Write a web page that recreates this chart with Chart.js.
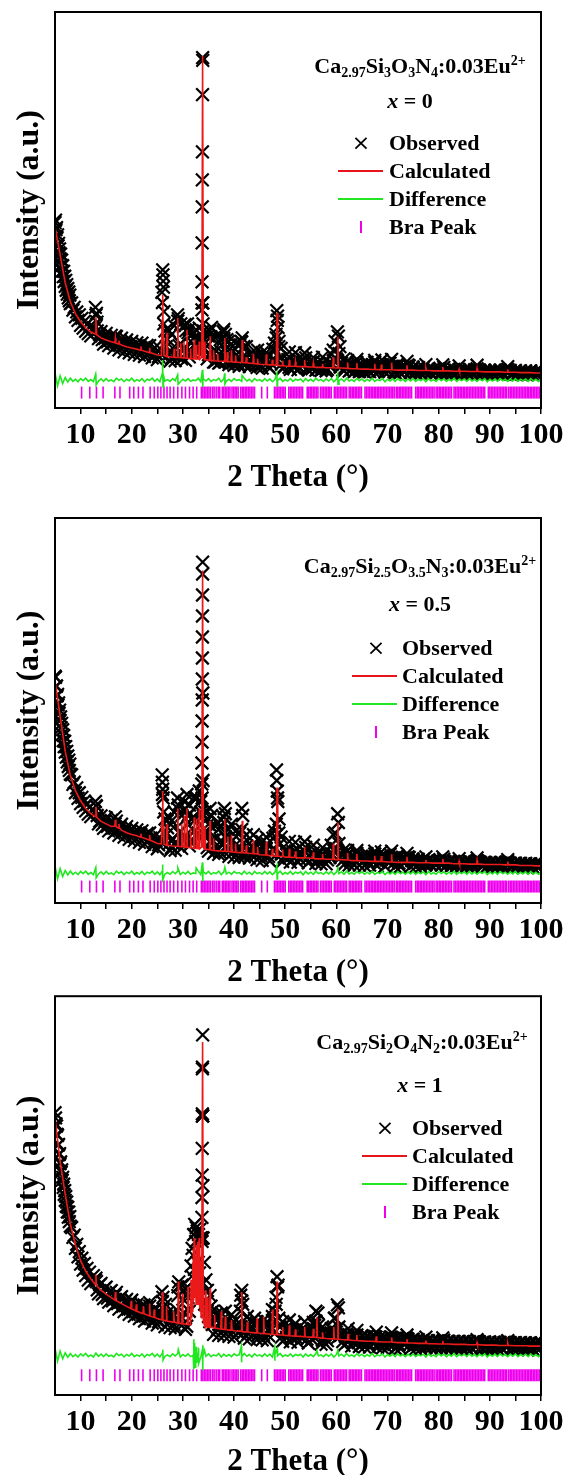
<!DOCTYPE html>
<html><head><meta charset="utf-8">
<script src="https://cdn.jsdelivr.net/npm/chart.js@4.4.0/dist/chart.umd.min.js"></script>
<style>
html,body{margin:0;padding:0;background:#fff;overflow:hidden;}
#page{position:relative;width:567px;height:1475px;overflow:hidden;font-family:"Liberation Serif","Times New Roman",serif;font-weight:bold;color:#000;}
canvas{position:absolute;left:0;}
.t{position:absolute;white-space:nowrap;line-height:1;z-index:5;}
.c{transform:translate(-50%,-50%);}
.l{transform:translateY(-50%);}
.f{font-size:22px;}
.f sub,.f sup{font-size:14px;line-height:0;position:relative;vertical-align:baseline;}
.f sub{top:0.32em;}
.f sup{top:-0.6em;}
.lg{font-size:22px;}
.xs{font-family:"DejaVu Sans",sans-serif;font-weight:normal;font-size:22px;}
.ln{position:absolute;height:2px;width:45px;z-index:5;}
.bt{position:absolute;width:2px;height:12px;background:#ee00ee;z-index:5;}
</style></head>
<body><div id="page">
<canvas id="c1" width="567" height="495" style="top:0px"></canvas>
<canvas id="c2" width="567" height="495" style="top:495px"></canvas>
<canvas id="c3" width="567" height="500" style="top:985px"></canvas>

<div class="t c f" style="left:420px;top:66px">Ca<sub>2.97</sub>Si<sub>3</sub>O<sub>3</sub>N<sub>4</sub>:0.03Eu<sup>2+</sup></div>
<div class="t c lg" style="left:410px;top:101px"><i>x</i> = 0</div>
<div class="t c xs" style="left:361px;top:143px">×</div>
<div class="t l lg" style="left:389px;top:143px">Observed</div>
<div class="ln" style="left:338px;top:170px;background:#e8141c"></div>
<div class="t l lg" style="left:389px;top:171px">Calculated</div>
<div class="ln" style="left:338px;top:198px;background:#22e622"></div>
<div class="t l lg" style="left:389px;top:199px">Difference</div>
<div class="bt" style="left:360px;top:221px"></div>
<div class="t l lg" style="left:389px;top:227px">Bra Peak</div>

<div class="t c f" style="left:420px;top:566px">Ca<sub>2.97</sub>Si<sub>2.5</sub>O<sub>3.5</sub>N<sub>3</sub>:0.03Eu<sup>2+</sup></div>
<div class="t c lg" style="left:420px;top:604px"><i>x</i> = 0.5</div>
<div class="t c xs" style="left:376px;top:648px">×</div>
<div class="t l lg" style="left:402px;top:648px">Observed</div>
<div class="ln" style="left:352px;top:675px;background:#e8141c"></div>
<div class="t l lg" style="left:402px;top:676px">Calculated</div>
<div class="ln" style="left:352px;top:703px;background:#22e622"></div>
<div class="t l lg" style="left:402px;top:704px">Difference</div>
<div class="bt" style="left:375px;top:726px"></div>
<div class="t l lg" style="left:402px;top:732px">Bra Peak</div>

<div class="t c f" style="left:422px;top:1042px">Ca<sub>2.97</sub>Si<sub>2</sub>O<sub>4</sub>N<sub>2</sub>:0.03Eu<sup>2+</sup></div>
<div class="t c lg" style="left:420px;top:1085px"><i>x</i> = 1</div>
<div class="t c xs" style="left:385px;top:1128px">×</div>
<div class="t l lg" style="left:412px;top:1128px">Observed</div>
<div class="ln" style="left:362px;top:1155px;background:#e8141c"></div>
<div class="t l lg" style="left:412px;top:1156px">Calculated</div>
<div class="ln" style="left:362px;top:1183px;background:#22e622"></div>
<div class="t l lg" style="left:412px;top:1184px">Difference</div>
<div class="bt" style="left:384px;top:1206px"></div>
<div class="t l lg" style="left:412px;top:1212px">Bra Peak</div>
</div>
<script>
// ---------- x tick values ----------
const xTicks = [10,15,20,25,30,35,40,45,50,55,60,65,70,75,80,85,90,95,100];

// ---------- 2-theta grids ----------
const gridObs = [5.0,5.1,5.2,5.3,5.4,5.5,5.6,5.7,5.8,5.9,
6.0,6.1,6.2,6.3,6.4,6.5,6.6,6.7,6.8,6.9,
7.0,7.1,7.2,7.3,7.4,7.5,7.6,7.7,7.8,7.9,
8.0,8.25,8.5,8.75,9,9.25,9.5,9.75,10,10.25,10.5,10.75,11,11.25,11.5,11.75,12,
12.5,13,13.5,14,14.5,15,15.5,16,16.5,17,
17.5,18,18.5,19,19.5,20,20.5,21,21.5,22,
22.5,23,23.5,24,24.5,25,25.5,26,26.5,27,
27.5,28,28.5,29,29.5,30,30.5,31,31.5,32,
32.5,33,33.5,34,34.5,35,35.5,36,36.5,37,
37.5,38,38.5,39,39.5,40,40.5,41,41.5,42,
42.5,43,43.5,44,44.5,45,45.5,46,46.5,47,
47.5,48,48.5,49,49.5,50,50.5,51,51.5,52,
52.5,53,53.5,54,54.5,55,55.5,56,56.5,57,
57.5,58,58.5,59,59.5,60,60.5,61,61.5,62,
62.5,63,63.5,64,64.5,65,65.5,66,66.5,67,
67.5,68,68.5,69,69.5,70,70.5,71,71.5,72,
72.5,73,73.5,74,74.5,75,75.5,76,76.5,77,
77.5,78,78.5,79,79.5,80,80.5,81,81.5,82,
82.5,83,83.5,84,84.5,85,85.5,86,86.5,87,
87.5,88,88.5,89,89.5,90,90.5,91,91.5,92,
92.5,93,93.5,94,94.5,95,95.5,96,96.5,97,
97.5,98,98.5,99,99.5,100];
const gridObsB = [12.75,13.25,13.75,14.25,14.75,15.25,15.75,16.25,16.75,17.25,
17.75,18.25,18.75,19.25,19.75,20.25,20.75,21.25,21.75,22.25,
22.75,23.25,23.75,24.25,24.75,25.25,25.75,26.25,26.75,27.25,
27.75,28.25,28.75,29.25,29.75,30.25,30.75,31.25,31.75,32.25,
32.75,33.25,33.75,34.25,34.75,35.25,35.75,36.25,36.75,37.25,
37.75,38.25,38.75,39.25,39.75,40.25,40.75,41.25,41.75,42.25,
42.75,43.25,43.75,44.25,44.75,45.25,45.75,46.25,46.75,47.25,
47.75,48.25,48.75,49.25,49.75,50.25,50.75,51.25,51.75,52.25,
52.75,53.25,53.75,54.25,54.75,55.25,55.75,56.25,56.75,57.25,
57.75,58.25,58.75,59.25,59.75,60.25,60.75,61.25,61.75,62.25,
62.75,63.25,63.75,64.25,64.75,65.25,65.75,66.25,66.75,67.25,
67.75,68.25,68.75,69.25,69.75,70.25,70.75,71.25,71.75,72.25,
72.75,73.25,73.75,74.25,74.75,75.25,75.75,76.25,76.75,77.25,
77.75,78.25,78.75,79.25,79.75,80.25,80.75,81.25,81.75,82.25,
82.75,83.25,83.75,84.25,84.75,85.25,85.75,86.25,86.75,87.25,
87.75,88.25,88.75,89.25,89.75,90.25,90.75,91.25,91.75,92.25,
92.75,93.25,93.75,94.25,94.75,95.25,95.75,96.25,96.75,97.25,
97.75,98.25,98.75,99.25,99.75];

const gridCalc = [5,6,7,8,9,10,11,12,13,14,
15,16,17,18,19,20,21,22,23,24,
25,26,27,28,29,30,31,32,33,34,
35,36,37,38,39,40,41,42,43,44,
45,46,47,48,49,50,51,52,53,54,
55,56,57,58,59,60,61,62,63,64,
65,66,67,68,69,70,71,72,73,74,
75,76,77,78,79,80,81,82,83,84,
85,86,87,88,89,90,91,92,93,94,
95,96,97,98,99,100];

const gridDiff = [5,5.5,6,6.5,7,7.5,8,8.5,9,9.5,10,10.5,11,11.5,12,12.5,13,13.5,14,14.5,
15,15.5,16,16.5,17,17.5,18,18.5,19,19.5,20,20.5,21,21.5,22,22.5,23,23.5,24,24.5,
25,25.5,26,26.5,27,27.5,28,28.5,29,29.5,30,30.5,31,31.5,32,32.5,33,33.5,34,34.5,
35,35.5,36,36.5,37,37.5,38,38.5,39,39.5,40,40.5,41,41.5,42,42.5,43,43.5,44,44.5,
45,45.5,46,46.5,47,47.5,48,48.5,49,49.5,50,50.5,51,51.5,52,52.5,53,53.5,54,54.5,
55,55.5,56,56.5,57,57.5,58,58.5,59,59.5,60,60.5,61,61.5,62,62.5,63,63.5,64,64.5,
65,65.5,66,66.5,67,67.5,68,68.5,69,69.5,70,70.5,71,71.5,72,72.5,73,73.5,74,74.5,
75,75.5,76,76.5,77,77.5,78,78.5,79,79.5,80,80.5,81,81.5,82,82.5,83,83.5,84,84.5,
85,85.5,86,86.5,87,87.5,88,88.5,89,89.5,90,90.5,91,91.5,92,92.5,93,93.5,94,94.5,
95,95.5,96,96.5,97,97.5,98,98.5,99,99.5,100];

// ---------- Bragg reflection positions ----------
const braPeaks = [10.2,11.8,13.1,14.4,16.7,17.7,19.6,20.4,21.3,22.2,23.6,24.4,25.1,25.7,26.3,26.9,27.5,28.2,29.0,29.8,30.5,31.3,32.0,32.7,
33.6,33.9,34.2,34.5,34.8,35.1,35.4,35.8,36.1,36.5,36.9,37.2,
37.7,38.0,38.3,38.6,38.9,39.2,39.6,39.9,40.2,40.5,40.8,
41.3,41.6,41.9,42.2,42.5,42.8,43.1,43.4,43.7,44.0,
45.4,46.5,
47.9,48.2,48.5,48.8,49.1,49.4,49.7,50.0,
50.7,51.0,51.3,51.6,51.9,52.2,52.5,52.8,53.1,53.4,
54.3,54.6,54.9,55.2,55.5,55.8,56.1,56.4,
56.9,57.2,57.5,57.8,58.1,58.4,58.7,59.0,
59.6,59.9,60.2,60.5,60.8,61.1,61.4,61.7,62.0,
62.5,62.8,63.1,63.4,63.7,64.0,64.3,64.6,64.9,
65.6,65.9,66.2,66.5,66.8,67.1,67.4,67.7,68.0,68.3,68.6,68.9,69.2,69.5,69.8,70.1,70.4,70.7,71.0,71.3,
71.7,72.0,72.3,72.6,72.9,73.2,73.5,73.8,74.1,74.4,74.7,
75.5,75.8,76.1,76.4,76.7,77.0,77.3,77.6,77.9,78.2,78.5,78.8,79.1,
79.5,79.8,80.1,80.4,80.7,81.0,81.3,81.6,81.9,82.2,82.5,
83.0,83.3,83.6,83.9,84.2,84.5,84.8,85.1,85.4,85.7,86.0,86.3,86.6,86.9,87.2,87.5,87.8,88.1,88.4,88.7,89.0,
89.7,90.0,90.3,90.6,90.9,91.2,91.5,91.8,92.1,92.4,92.7,93.0,93.3,
93.7,94.0,94.3,94.6,94.9,95.2,95.5,95.8,96.1,96.4,96.7,97.0,97.3,97.6,97.9,98.2,98.5,98.8,99.1,99.4,99.7];

// ================= PANEL 1 (x = 0) =================
const obs1 = [52.9,53.6,50.9,51.5,48.6,49.4,46.3,47.0,44.3,45.4,
42.6,43.9,40.8,42.2,39.1,40.6,37.5,39.0,36.1,37.6,
34.7,36.4,33.6,35.2,32.5,34.1,31.4,33.1,30.6,32.2,
29.8,30.0,27.9,28.7,26.0,27.4,25.0,26.6,23.6,25.6,22.8,24.7,21.9,23.9,21.2,23.2,20.6,
22.9,26.5,19.8,21.8,18.2,21.3,17.8,20.7,17.1,20.4,
16.6,19.9,16.0,19.4,15.7,19.0,15.3,18.6,15.1,18.5,
14.7,17.9,17.8,14.3,17.2,13.8,17.0,30.1,22.0,19.6,
13.4,17.1,13.5,24.8,18.4,16.9,13.6,21.5,15.8,19.8,
17.5,15.9,19.0,22.0,18.8,15.2,20.3,13.1,16.2,12.8,
16.1,19.8,15.9,12.4,16.0,12.2,15.2,11.9,18.8,12.3,
14.5,11.8,14.3,13.9,11.6,14.0,11.4,13.7,14.9,11.3,
13.9,16.5,26.2,14.2,11.2,13.4,13.8,11.0,13.5,13.3,
10.9,13.3,13.9,14.3,10.9,12.9,13.2,10.8,12.9,10.7,
12.8,10.6,12.8,12.6,13.6,14.0,15.5,12.9,10.6,12.8,
10.5,12.5,10.4,13.0,10.4,12.3,10.3,12.2,10.4,12.4,
13.0,10.3,12.2,12.4,10.2,12.0,12.8,11.9,10.1,11.9,
10.1,11.8,11.9,12.3,10.1,11.7,10.0,11.6,10.0,11.6,
10.2,11.2,10.1,11.1,10.1,11.1,10.1,11.6,10.1,11.1,
10.0,11.0,10.0,11.0,10.0,10.9,9.9,10.9,9.9,10.9,
11.2,10.8,9.8,10.8,9.8,10.8,9.8,10.8,9.8,10.8,
9.7,10.7,11.0,10.7,9.7,10.7,9.6,10.6,9.6,10.6,
9.6,10.6,9.5,10.5,9.5,10.5];
const obsB1 = [22.8,22.0,20.9,19.5,19.9,18.9,19.4,18.5,19.9,18.0,
18.5,17.6,18.0,17.0,17.6,16.6,17.3,16.3,17.3,16.0,
16.5,15.5,16.1,15.1,15.6,14.7,15.4,24.0,17.5,15.3,
14.2,14.9,15.0,17.8,14.0,16.5,15.9,14.6,16.0,18.0,
16.8,16.5,30.0,17.0,14.0,15.0,16.1,13.2,13.8,13.0,
14.5,16.8,13.6,13.5,12.8,13.5,12.7,13.3,14.6,12.5,
13.2,12.4,14.1,12.2,12.9,12.0,12.8,13.5,11.9,12.7,
14.0,20.0,17.5,12.5,11.8,12.4,11.6,12.3,11.5,12.4,
11.4,12.2,13.1,11.3,12.0,11.2,11.9,11.1,11.9,11.1,
11.8,11.0,11.8,12.5,19.0,13.5,11.7,10.9,11.6,12.3,
10.8,11.5,10.7,12.0,11.4,10.6,11.3,10.6,11.3,10.5,
11.8,10.5,11.2,12.0,11.1,10.4,11.9,10.4,11.1,10.3,
11.0,10.3,11.0,12.0,10.9,10.2,10.9,10.2,10.9,10.2,
10.8,10.1,10.8,10.1,10.7,11.3,10.0,10.7,10.0,10.6,
10.0,10.6,10.0,10.6,9.9,10.5,9.9,10.5,9.9,10.5,
10.8,10.4,9.8,10.4,9.8,10.4,9.8,10.3,9.7,10.3,
9.7,10.6,10.3,9.7,10.3,9.6,10.2,9.6,10.2,9.6,
10.2,9.6,10.1,9.6,10.1];
const obsPkX1 = [12.9,13.1,13.2,16.8,25.9,26.05,26.1,26.15,26.2,26.3,26.9,28.95,29.1,29.6,30.1,30.6,30.9,32.2,32.6,33.2,
33.72,33.74,33.76,33.78,33.8,33.82,33.84,33.86,33.88,33.92,33.95,34.3,35.3,35.6,37.9,38.3,38.6,39.3,41.4,41.6,41.9,
43.9,46.3,48.2,48.35,48.45,48.6,48.8,53.8,55.5,59.4,60.2,60.4,60.7,62.2,64.0,67.5,68.9,70.8,73.8,80.8];
const obsPkY1 = [28.7,27.0,24.5,20.5,33.0,39.4,38.0,36.2,34.5,27.5,22.5,26.6,25.5,24.0,23.3,22.1,24.0,21.5,22.3,22.8,
28.0,36.0,47.1,57.4,65.1,73.1,89.4,100.0,99.2,30.0,24.0,21.5,22.0,23.0,21.7,21.0,19.5,18.0,19.0,20.0,17.5,
16.4,15.8,21.0,27.8,25.0,23.0,19.0,15.7,14.4,16.5,21.7,20.5,17.5,13.5,13.9,13.6,13.7,13.9,13.3,12.3];
const obsSmX1 = [27.3,27.8,28.3,30.4,31.2,31.7,34.7,35.0,36.3,36.8,37.3,38.0,38.9,40.3,41.1,42.4,44.6,45.5,47.6,47.9,
49.2,50.8,52.0,57.3,59.0,61.5,66.0,72.0,77.5,84.0,87.5,93.5];
const obsSmY1 = [22.0,21.0,23.5,23.8,22.5,21.0,21.8,20.5,20.0,21.0,19.5,22.4,19.0,18.5,18.0,17.5,16.5,15.8,16.8,18.5,
17.0,16.0,15.8,14.5,15.3,14.0,13.0,12.6,12.4,12.0,12.2,11.8];
const calc1 = [51.7,43.7,35.7,30.3,26.9,24.6,22.9,21.7,21.0,20.0,
19.4,18.9,18.4,18.0,17.5,17.1,16.8,16.4,16.0,15.6,
15.1,14.9,14.7,14.5,14.4,14.3,14.2,14.0,13.9,13.8,
13.6,13.5,13.4,13.3,13.2,13.1,13.0,12.9,12.8,12.7,
12.5,12.4,12.3,12.2,12.1,12.0,11.9,11.9,11.8,11.8,
11.7,11.6,11.6,11.5,11.5,11.4,11.4,11.3,11.2,11.2,
11.1,11.1,11.0,11.0,10.9,10.9,10.9,10.8,10.8,10.8,
10.8,10.7,10.7,10.7,10.6,10.6,10.6,10.6,10.5,10.5,
10.5,10.4,10.4,10.4,10.3,10.3,10.3,10.3,10.2,10.2,
10.2,10.1,10.1,10.1,10.0,10.0];
const calcPkX1 = [12.85,13.0,13.15, 16.7,16.8,16.9, 17.4,17.5,17.6, 21.7,21.8,21.9, 23.4,23.5,23.6,
25.8,25.95,26.05,26.15,26.3, 26.8,26.9,27.0, 28.2,28.3,28.4, 28.9,29.0,29.1, 29.5,29.6,29.7, 30.1,30.2,30.3,
30.7,30.8,30.9, 31.4,31.5,31.6, 32.1,32.2,32.3, 32.5,32.6,32.7, 33.1,33.2,33.3, 33.7,33.85,34.0, 34.2,34.3,34.4,
35.2,35.35,35.5, 35.9,36.0,36.1, 36.7,36.8,36.9, 38.1,38.2,38.3, 38.6,38.7,38.8, 39.4,39.5,39.6, 40.2,40.3,40.4,
41.5,41.6,41.7, 42.3,42.4,42.5, 43.7,43.8,43.9, 44.5,44.6,44.7, 46.2,46.3,46.4, 47.4,47.5,47.6, 48.25,48.4,48.55,
49.4,49.5,49.6, 50.7,50.8,50.9, 51.9,52.0,52.1, 53.7,53.8,53.9, 55.4,55.5,55.6, 57.2,57.3,57.4, 59.3,59.4,59.5,
60.2,60.3,60.4, 62.1,62.2,62.3, 63.9,64.0,64.1, 67.4,67.5,67.6, 68.7,68.8,68.9, 70.7,70.8,70.9, 73.7,73.8,73.9,
77.4,77.5,77.6, 80.7,80.8,80.9, 83.9,84.0,84.1, 87.4,87.5,87.6, 93.4,93.5,93.6];
const calcPkY1 = [21.1,25.9,20.9, 18.6,20.0,18.5, 18.3,19.2,18.3, 16.5,17.6,16.5, 15.8,17.2,15.8,
15.0,25.0,32.3,20.0,15.0, 14.7,21.5,14.7, 14.5,17.0,14.5, 14.4,25.7,14.4, 14.4,18.5,14.4, 14.3,19.0,14.3,
14.2,22.3,14.2, 14.1,17.0,14.1, 14.0,19.5,14.0, 14.0,18.0,14.0, 13.9,19.0,13.9, 14.5,100.5,14.5, 13.8,19.0,13.8,
13.6,20.5,13.6, 13.5,16.5,13.5, 13.4,15.5,13.4, 13.3,20.0,13.3, 13.2,16.0,13.2, 13.2,16.5,13.2, 13.1,15.0,13.1,
13.0,19.4,13.0, 12.9,14.5,12.9, 12.7,15.5,12.7, 12.6,14.0,12.6, 12.4,15.3,12.4, 12.3,13.8,12.3, 12.2,27.1,12.2,
12.1,13.5,12.1, 11.9,13.7,11.9, 11.9,13.2,11.9, 11.8,13.7,11.8, 11.7,12.8,11.7, 11.6,12.6,11.6, 11.5,14.5,11.5,
11.4,20.3,11.4, 11.3,13.0,11.3, 11.2,12.8,11.2, 11.0,12.6,11.0, 10.9,12.4,10.9, 10.9,12.9,10.9, 10.8,12.2,10.8,
10.7,11.4,10.7, 10.6,11.7,10.6, 10.5,11.1,10.5, 10.4,11.3,10.4, 10.2,11.0,10.2];
const diff1 = [10.0,6.3,9.2,7.0,8.7,7.4,8.5,7.6,8.2,7.5,8.4,7.8,8.5,7.6,8.1,7.5,8.6,7.7,8.3,7.6,
8.4,7.7,8.0,7.5,8.5,7.9,8.3,7.5,8.2,7.8,8.5,7.6,8.1,7.7,8.4,7.5,8.2,7.9,8.5,7.6,
8.3,7.5,8.6,7.7,8.1,7.6,8.4,7.8,8.5,7.5,8.2,7.7,8.4,7.6,8.0,7.8,8.5,7.5,8.3,7.7,
8.4,7.6,8.1,7.8,8.5,7.5,8.3,7.7,8.2,7.6,8.4,7.9,8.1,7.6,8.5,7.7,8.2,7.5,8.4,7.8,
8.1,7.6,8.4,7.7,8.3,7.5,8.2,7.8,8.5,7.6,8.1,7.7,8.4,7.6,8.2,7.9,8.3,7.5,8.4,7.7,
8.2,7.6,8.5,7.8,8.1,7.6,8.3,7.7,8.4,7.5,8.2,7.8,8.3,7.6,8.5,7.7,8.1,7.6,8.4,7.8,
8.3,7.6,8.2,7.7,8.5,7.6,8.1,7.8,8.4,7.5,8.2,7.7,8.3,7.6,8.4,7.8,8.2,7.6,8.3,7.7,
8.4,7.6,8.2,7.8,8.3,7.5,8.4,7.7,8.1,7.6,8.4,7.8,8.3,7.6,8.2,7.7,8.5,7.6,8.2,7.8,
8.3,7.6,8.4,7.7,8.2,7.6,8.3,7.8,8.4,7.5,8.2,7.7,8.3,7.6,8.4,7.8,8.2,7.6,8.3,7.7,
8.4,7.6,8.2,7.8,8.3,7.6,8.4,7.7,8.2,7.6,8.3];
const diffPkX1 = [12.95,13.05,25.97,26.07,26.12,26.2,28.97,29.07,33.82,33.87,33.93,38.17,38.22,41.57,48.37,48.42,60.27,60.32];
const diffPkY1 = [9.6,6.6,9.8,13.7,6.0,9.3,9.4,6.8,10.9,6.0,9.8,9.9,6.8,9.3,9.9,6.3,9.5,6.8];

// ================= PANEL 2 (x = 0.5) =================
const obs2 = [64.8,64.5,61.9,62.0,59.2,59.6,56.6,57.2,54.3,55.1,
52.2,53.2,50.1,51.3,48.2,49.5,46.4,47.8,44.7,46.2,
43.1,44.7,41.7,43.3,40.3,42.0,39.0,40.8,37.9,39.7,
36.8,36.6,33.9,34.5,31.5,32.9,29.9,31.5,28.4,30.2,27.3,29.1,26.3,28.1,25.4,27.4,24.7,
26.6,27.8,22.6,24.9,21.3,24.3,20.6,23.6,20.0,23.4,
19.3,22.5,18.8,21.8,18.2,21.3,17.8,20.9,17.3,20.6,
16.8,19.9,20.0,16.1,19.1,15.5,18.7,31.0,24.0,21.5,
15.0,18.4,15.1,27.0,20.5,18.2,24.0,25.0,17.4,24.5,
24.0,20.0,26.0,25.0,20.5,14.8,22.0,14.2,18.5,13.9,
17.8,23.0,18.5,13.3,17.6,13.1,16.9,13.0,21.0,13.2,
16.3,12.8,16.0,15.7,12.4,15.5,12.2,15.3,16.9,12.0,
15.2,19.0,30.0,17.0,11.9,14.8,14.9,11.7,14.7,14.8,
11.6,14.5,15.2,15.9,11.5,14.1,14.3,11.3,14.0,11.2,
13.8,11.2,13.8,14.1,15.0,15.5,17.0,13.9,11.0,13.7,
10.9,13.4,10.8,14.2,10.8,13.3,10.7,13.2,10.8,13.3,
14.0,10.6,13.1,13.5,10.5,12.9,13.9,12.8,10.4,12.8,
10.4,12.7,12.9,13.2,10.4,12.6,10.3,12.5,10.3,12.5,
10.9,12.1,10.9,12.0,10.8,12.0,10.8,12.5,10.8,12.0,
10.7,11.9,10.7,11.8,10.6,11.8,10.6,11.8,10.6,11.7,
12.2,11.7,10.5,11.6,10.5,11.6,10.5,11.6,10.5,11.5,
10.4,11.5,11.8,11.4,10.4,11.4,10.3,11.3,10.2,11.3,
10.2,11.2,10.1,11.2,10.1,11.1];
const obsB2 = [25.9,25.0,23.4,22.4,23.3,21.9,22.7,21.4,22.6,20.9,
21.5,20.4,20.9,19.6,20.4,19.1,19.9,18.8,19.7,18.4,
19.0,17.8,18.5,17.3,17.8,16.6,17.4,26.0,19.5,16.9,
15.8,16.9,17.0,20.0,15.6,19.0,18.5,16.3,18.0,20.5,
19.5,19.0,30.0,19.5,15.8,17.5,18.0,14.6,15.6,14.5,
16.5,19.0,15.3,15.1,14.4,15.2,14.3,15.0,17.0,14.1,
14.9,13.9,15.9,13.7,14.5,13.5,14.4,15.3,13.3,14.2,
15.7,22.5,20.0,14.0,13.1,13.8,12.9,13.7,12.8,13.7,
12.7,13.5,14.8,12.6,13.4,12.5,13.3,12.4,13.2,12.3,
13.1,12.3,13.0,13.9,20.0,14.9,13.0,12.1,12.9,13.6,
12.0,12.8,11.9,13.3,12.7,11.8,12.6,11.8,12.5,11.7,
13.0,11.6,12.4,13.2,12.3,11.5,13.1,11.5,12.2,11.4,
12.2,11.4,12.2,13.0,12.1,11.3,12.1,11.3,12.0,11.3,
12.0,11.2,11.9,11.2,11.9,12.4,11.1,11.8,11.1,11.8,
11.0,11.7,11.0,11.7,10.9,11.6,10.9,11.6,10.9,11.6,
11.9,11.5,10.8,11.5,10.8,11.5,10.8,11.4,10.7,11.4,
10.7,11.7,11.4,10.6,11.3,10.6,11.3,10.5,11.2,10.5,
11.2,10.5,11.1,10.4,11.1];
const obsPkX2 = [12.9,13.1,16.8,25.95,26.0,26.05,26.15,26.9,28.95,29.1,29.8,30.3,30.8,31.3,32.2,32.7,33.2,33.5,
33.7,33.72,33.74,33.76,33.78,33.8,33.81,33.82,33.83,33.84,33.85,33.86,33.9,33.95,34.3,35.3,35.6,38.1,38.3,39.5,41.5,41.7,
43.8,46.3,48.3,48.35,48.45,48.55,48.8,53.8,55.5,59.4,60.25,60.4,62.2,64.0,67.5,68.8,70.8,73.8,80.8];
const obsPkY2 = [29.0,27.6,24.6,36.6,34.5,32.5,30.0,23.5,30.0,28.0,25.0,29.0,31.0,28.0,30.0,30.0,32.0,29.0,
34,40,46,52,58,64,70,76,82,88,94,97.4,60,35,26,27,25,27,25.5,22.5,27,25,
19.5,18.8,38,35,32,29,24,17.5,16.5,19.5,25.5,23.0,15.0,15.0,14.8,14.6,14.8,14.2,13.2];
const obsSmX2 = [27.3,27.8,28.3,30.4,31.2,31.7,34.7,35.0,36.3,36.8,37.3,38.0,38.9,40.3,41.1,42.4,44.6,45.5,47.6,47.9,
49.2,50.8,52.0,57.3,59.0,61.5,66.0,72.0,77.5,84.0,87.5,93.5];
const obsSmY2 = [24.5,23.5,26.0,27.0,25.5,24.0,24.0,22.5,22.0,23.0,21.5,24.5,21.0,20.5,20.0,19.5,18.2,17.5,18.5,20.5,
18.8,17.6,17.3,15.8,16.5,15.2,14.1,13.6,13.2,12.7,12.9,12.4];
const calc2 = [63.6,53.4,43.3,36.4,32.1,29.2,27.0,25.5,24.6,23.3,
22.6,21.9,21.3,20.8,20.1,19.6,19.2,18.7,18.2,17.7,
17.0,16.8,16.5,16.3,16.2,16.0,15.9,15.7,15.5,15.4,
15.2,15.0,14.9,14.8,14.7,14.5,14.4,14.3,14.2,14.0,
13.8,13.7,13.5,13.4,13.3,13.1,13.0,13.0,12.9,12.9,
12.8,12.6,12.6,12.5,12.5,12.4,12.4,12.3,12.1,12.1,
12.0,12.0,11.9,11.9,11.7,11.7,11.7,11.6,11.6,11.6,
11.6,11.5,11.5,11.5,11.4,11.4,11.4,11.4,11.2,11.2,
11.2,11.1,11.1,11.1,11.0,11.0,11.0,11.0,10.9,10.9,
10.9,10.7,10.7,10.7,10.6,10.6];
const calcPkX2 = [12.85,13.0,13.15, 16.7,16.8,16.9, 17.4,17.5,17.6, 21.7,21.8,21.9, 23.4,23.5,23.6,
25.8,25.95,26.05,26.15,26.3, 26.8,26.9,27.0, 28.9,29.0,29.1, 29.7,29.8,29.9, 30.2,30.3,30.4, 30.7,30.8,30.9,
31.4,31.5,31.6, 32.1,32.2,32.3, 32.6,32.7,32.8, 33.1,33.2,33.3, 33.7,33.85,34.0, 34.2,34.3,34.4, 35.2,35.3,35.4,
35.9,36.0,36.1, 38.1,38.2,38.3, 38.7,38.8,38.9, 39.4,39.5,39.6, 40.2,40.3,40.4, 41.5,41.6,41.7, 42.3,42.4,42.5,
43.7,43.8,43.9, 44.5,44.6,44.7, 46.2,46.3,46.4, 47.4,47.5,47.6, 48.25,48.4,48.55, 49.4,49.5,49.6, 50.7,50.8,50.9,
51.9,52.0,52.1, 53.7,53.8,53.9, 55.4,55.5,55.6, 57.2,57.3,57.4, 59.3,59.4,59.5, 60.2,60.3,60.4, 62.1,62.2,62.3,
63.9,64.0,64.1, 67.4,67.5,67.6, 68.7,68.8,68.9, 70.7,70.8,70.9, 73.7,73.8,73.9, 77.4,77.5,77.6, 80.7,80.8,80.9,
83.9,84.0,84.1, 87.4,87.5,87.6, 93.4,93.5,93.6];
const calcPkY2 = [24.7,27.5,24.5, 22.0,23.8,21.9, 21.4,22.6,21.4, 18.8,19.8,18.8, 18.0,19.4,17.9,
16.9,26.0,32.0,22.0,16.8, 16.5,22.5,16.5, 16.2,27.0,16.2, 16.1,22.5,16.1, 16.0,25.0,16.0, 15.9,27.0,15.9,
15.8,21.5,15.8, 15.7,24.5,15.7, 15.6,24.0,15.6, 15.5,27.0,15.5, 16.0,95.0,16.0, 15.4,22.0,15.4, 15.2,23.5,15.2,
15.0,18.5,15.0, 14.8,24.0,14.8, 14.7,19.0,14.7, 14.6,19.5,14.6, 14.5,17.0,14.5, 14.4,23.5,14.4, 14.3,16.5,14.3,
14.1,18.0,14.1, 14.0,16.0,14.0, 13.7,17.5,13.7, 13.5,15.5,13.5, 13.4,33.0,13.4, 13.3,15.3,13.3, 13.1,15.5,13.1,
13.0,14.8,13.0, 12.9,16.0,12.9, 12.8,14.5,12.8, 12.6,14.0,12.6, 12.5,17.0,12.5, 12.4,23.0,12.4, 12.3,14.3,12.3,
12.1,14.0,12.1, 11.9,13.5,11.9, 11.9,13.4,11.9, 11.7,13.9,11.7, 11.6,13.2,11.6, 11.5,12.3,11.5, 11.4,12.6,11.4,
11.2,11.9,11.2, 11.1,12.2,11.1, 10.9,11.8,10.9];
const diff2 = [10.6,6.9,9.8,7.6,9.3,8.0,9.1,8.2,8.8,8.1,9.0,8.4,9.1,8.2,8.7,8.1,9.2,8.3,8.9,8.2,
9.0,8.3,8.6,8.1,9.1,8.5,8.9,8.1,8.8,8.4,9.1,8.2,8.7,8.3,9.0,8.1,8.8,8.5,9.1,8.2,
8.9,8.1,9.2,8.3,8.7,8.2,9.0,8.4,9.1,8.1,8.8,8.3,9.0,8.2,8.6,8.4,9.1,8.1,8.9,8.3,
9.0,8.2,8.7,8.4,9.1,8.1,8.9,8.3,8.8,8.2,9.0,8.5,8.7,8.2,9.1,8.3,8.8,8.1,9.0,8.4,
8.7,8.2,9.0,8.3,8.9,8.1,8.8,8.4,9.1,8.2,8.7,8.3,9.0,8.2,8.8,8.5,8.9,8.1,9.0,8.3,
8.8,8.2,9.1,8.4,8.7,8.2,8.9,8.3,9.0,8.1,8.8,8.4,8.9,8.2,9.1,8.3,8.7,8.2,9.0,8.4,
8.9,8.2,8.8,8.3,9.1,8.2,8.7,8.4,9.0,8.1,8.8,8.3,8.9,8.2,9.0,8.4,8.8,8.2,8.9,8.3,
9.0,8.2,8.8,8.4,8.9,8.1,9.0,8.3,8.7,8.2,9.0,8.4,8.9,8.2,8.8,8.3,9.1,8.2,8.8,8.4,
8.9,8.2,9.0,8.3,8.8,8.2,8.9,8.4,9.0,8.1,8.8,8.3,8.9,8.2,9.0,8.4,8.8,8.2,8.9,8.3,
9.0,8.2,8.8,8.4,8.9,8.2,9.0,8.3,8.8,8.2,8.9];
const diffPkX2 = [12.97,13.05,26.02,26.08,29.02,32.6,33.82,33.87,33.93,38.2,48.37,48.42,60.3];
const diffPkY2 = [10.1,7.2,11.0,6.6,10.0,10.0,11.6,6.2,10.4,10.2,10.7,6.9,10.0];

// ================= PANEL 3 (x = 1) =================
const obs3 = [80.9,79.4,77.7,77.1,74.7,74.4,71.6,71.8,68.9,69.2,
66.3,66.8,63.9,64.5,61.6,62.4,59.5,60.4,57.5,58.6,
55.8,56.9,54.1,55.3,52.5,53.8,51.0,52.4,49.7,51.1,
48.4,48.0,45.2,45.8,42.0,43.2,39.6,41.1,37.5,39.2,35.8,37.7,34.2,36.3,32.9,35.2,31.9,
34.2,33.5,29.0,32.0,27.6,30.9,26.6,29.9,25.6,29.4,
24.6,28.2,23.9,27.4,23.1,27.2,22.6,26.0,21.9,25.6,
21.2,25.0,25.5,20.6,24.3,20.1,23.9,26.8,19.6,23.6,
19.3,22.9,19.0,28.5,22.7,27.5,18.8,28.0,30.0,40.0,
44.0,38.0,45.0,32.0,27.0,22.5,25.5,17.4,21.5,17.1,
21.2,17.0,20.8,16.8,20.5,16.6,20.2,19.5,27.0,16.3,
19.8,16.1,19.6,19.8,15.9,19.4,15.8,19.5,15.6,19.2,
22.5,24.0,31.0,19.5,15.4,18.9,18.8,15.2,18.7,18.6,
15.1,18.4,18.8,18.6,14.9,18.2,19.0,21.2,20.0,14.6,
17.9,14.5,17.8,17.8,17.5,18.0,19.5,17.6,14.2,17.5,
17.3,14.0,17.2,17.2,13.9,17.0,13.8,16.9,13.7,16.8,
16.8,13.6,16.6,13.5,16.6,13.5,16.6,16.3,13.4,16.3,
13.4,16.2,16.2,16.0,13.3,16.0,13.2,15.9,13.2,15.9,
13.6,15.6,13.6,15.5,13.5,15.5,13.5,15.7,13.5,15.4,
13.5,15.4,13.4,15.4,13.4,15.3,13.4,15.3,13.3,15.2,
15.5,15.2,13.2,15.2,13.2,15.2,13.2,15.1,13.2,15.1,
13.1,15.1,15.3,15.0,13.1,15.0,13.0,15.0,13.0,14.9,
13.0,14.9,13.0,14.9,12.9,14.9];
const obsB3 = [33.0,30.1,31.6,28.8,30.6,27.8,29.6,27.0,28.6,26.2,
27.8,25.4,27.0,24.6,26.2,23.9,25.5,23.2,24.9,22.6,
24.3,22.0,23.8,21.5,23.2,21.0,22.8,24.5,22.5,20.6,
22.0,20.2,24.5,21.6,19.9,23.5,19.7,24.0,34.0,36.0,
38.0,35.0,44.0,26.0,24.0,21.0,20.2,22.0,18.7,20.4,
18.4,20.1,18.2,19.9,18.0,19.7,17.8,24.0,17.7,19.3,
17.5,19.2,17.4,20.5,17.2,18.9,17.1,20.0,17.0,18.6,
21.0,26.0,22.0,16.6,18.3,16.5,18.2,16.4,18.1,16.3,
17.9,16.2,17.9,16.0,17.7,15.9,20.0,17.0,17.5,15.7,
17.3,15.6,17.2,18.5,22.0,16.5,17.0,15.3,16.8,15.2,
16.6,15.1,16.5,15.0,16.4,14.9,16.3,14.8,16.2,14.7,
16.6,14.7,16.1,14.6,16.0,14.5,16.6,14.5,15.9,14.4,
15.8,14.4,16.3,14.3,15.7,14.2,15.7,14.2,15.6,14.1,
15.6,14.1,15.5,14.0,15.5,14.0,15.4,14.0,15.4,13.9,
15.3,13.9,15.3,13.8,15.3,13.8,15.2,13.8,15.2,13.7,
15.4,13.7,15.1,13.7,15.1,13.6,15.1,13.6,15.0,13.6,
15.0,13.6,15.0,13.5,14.9,13.5,14.9,13.5,14.9,13.4,
14.8,13.4,14.8,13.4,14.8];
const obsPkX3 = [12.9,13.1,19.9,22.4,23.5,25.9,26.1,26.6,29.05,29.2,29.8,30.2,30.9,31.6,31.8,32.1,32.3,32.6,32.8,33.05,33.3,
33.7,33.72,33.74,33.76,33.78,33.8,33.81,33.82,33.83,33.86,33.9,33.92,33.95,34.2,34.5,34.8,35.3,37.5,41.3,41.5,41.7,
44.5,45.8,47.5,48.2,48.4,48.6,56.0,56.4,59.6,60.2,60.4];
const obsPkY3 = [33.0,32.5,27.0,25.8,26.5,29.6,28.0,26.0,31.0,32.4,31.5,30.0,31.0,37.0,42.0,46.0,48.9,48.0,47.0,46.0,47.5,
45.0,50.9,56.6,63.0,70.7,79.9,80.6,93.5,94.0,103.2,80.0,60.0,45.0,38.0,33.0,30.0,28.5,23.5,28.6,30.0,26.0,
21.0,21.5,24.5,28.0,33.9,31.5,24.0,23.5,22.0,25.8,25.0];
const obsSmX3 = [35.8,36.4,37.0,38.3,39.5,40.4,42.6,43.4,44.0,46.5,49.5,50.8,52.0,53.8,55.5,57.3,59.0,62.3,64.0,67.8,
70.8,73.8,77.5,80.8,87.5,93.5];
const obsSmY3 = [24.0,23.0,22.5,24.0,23.0,21.5,22.5,21.0,22.0,21.0,21.0,21.5,20.5,21.0,20.8,19.5,19.0,19.0,18.5,18.0,
17.8,17.2,16.6,16.4,15.9,15.6];
const calc3 = [79.4,67.0,57.5,49.0,43.0,38.5,35.5,33.3,31.5,30.0,
28.9,27.9,27.0,26.2,25.4,24.7,24.0,23.4,22.9,22.4,
21.9,21.5,21.2,20.9,20.6,20.4,20.2,20.0,19.8,19.6,
19.4,19.2,19.0,18.8,18.6,18.4,18.3,18.1,18.0,17.8,
17.7,17.6,17.4,17.3,17.2,17.1,17.0,16.9,16.8,16.7,
16.6,16.5,16.3,16.2,16.1,16.0,15.9,15.8,15.7,15.6,
15.5,15.4,15.4,15.3,15.2,15.2,15.1,15.0,15.0,14.9,
14.9,14.8,14.8,14.7,14.7,14.6,14.6,14.6,14.5,14.5,
14.5,14.4,14.4,14.4,14.3,14.3,14.3,14.2,14.2,14.2,
14.1,14.1,14.1,14.0,14.0,14.0];
const calcPkX3 = [12.9,13.0,13.1, 16.7,16.8,16.9, 19.8,19.9,20.0, 20.8,20.9,21.0, 22.2,22.3,22.4, 23.4,23.5,23.6, 24.3,24.4,24.5,
25.9,26.0,26.1, 26.7,26.8,26.9, 28.1,28.2,28.3, 29.0,29.1,29.2, 29.8,29.9,30.0, 30.9,31.0,31.1,
31.5,31.6,31.7,31.8,31.9,31.97,32.05,32.12,32.2,32.27,32.35,32.42,32.5,32.57,32.65,32.72,32.78,32.85,32.92,32.99,
33.05,33.12,33.18,33.25,33.32,33.4,33.47,33.54,33.62,33.7,33.85,34.0,
34.3,34.4,34.5, 34.7,34.8,34.9, 35.2,35.3,35.4, 36.1,36.2,36.3, 37.4,37.5,37.6, 38.2,38.3,38.4, 39.4,39.5,39.6,
41.4,41.5,41.6, 42.5,42.6,42.7, 44.4,44.5,44.6, 45.7,45.8,45.9, 47.4,47.5,47.6, 48.3,48.4,48.5, 49.4,49.5,49.6,
50.7,50.8,50.9, 51.9,52.0,52.1, 53.7,53.8,53.9, 55.4,55.5,55.6, 56.1,56.2,56.3, 57.2,57.3,57.4, 59.4,59.5,59.6,
60.2,60.3,60.4, 62.2,62.3,62.4, 63.9,64.0,64.1, 67.7,67.8,67.9, 70.7,70.8,70.9, 73.7,73.8,73.9, 77.4,77.5,77.6,
80.7,80.8,80.9, 87.4,87.5,87.6, 93.4,93.5,93.6];
const calcPkY3 = [31.6,34.5,31.4, 27.2,29.5,27.1, 24.8,27.0,24.7, 24.1,26.0,24.0, 23.4,25.5,23.3, 22.7,26.2,22.6, 22.3,24.5,22.2,
21.5,29.5,21.5, 21.3,25.5,21.2, 20.9,24.0,20.9, 20.6,32.5,20.6, 20.4,29.0,20.4, 20.2,31.0,20.2,
20.1,33.0,22.0,24.0,38.0,25.0,42.0,27.0,45.0,30.0,44.5,28.0,40.0,26.0,43.0,30.0,39.0,27.0,44.0,26.0,
41.0,28.0,45.0,25.0,42.0,24.0,38.0,23.0,40.0,22.0,101.2,21.0,
19.7,30.0,19.6, 19.5,28.0,19.5, 19.4,30.5,19.4, 19.2,23.0,19.2, 18.9,24.0,18.9, 18.8,22.5,18.8, 18.6,21.5,18.6,
18.3,29.5,18.2, 18.1,21.0,18.1, 17.8,22.0,17.8, 17.6,22.5,17.6, 17.4,24.5,17.4, 17.3,32.5,17.3, 17.2,19.5,17.2,
17.0,20.0,17.0, 16.9,18.8,16.9, 16.7,19.5,16.7, 16.6,19.0,16.6, 16.5,22.3,16.5, 16.3,18.0,16.3, 16.1,19.5,16.1,
16.0,24.7,16.0, 15.8,17.5,15.8, 15.6,17.2,15.6, 15.3,16.8,15.3, 15.2,16.5,15.2, 14.9,16.0,14.9, 14.8,15.6,14.8,
14.6,15.5,14.6, 14.4,15.0,14.4, 14.2,14.8,14.2];
const diff3 = [13.4,9.7,12.6,10.4,12.1,10.8,11.9,11.0,11.6,10.9,11.8,11.2,11.9,11.0,11.5,10.9,12.0,11.1,11.7,11.0,
11.8,11.1,11.4,10.9,11.9,11.3,11.7,10.9,11.6,11.2,11.9,11.0,11.5,11.1,11.8,10.9,11.6,11.3,11.9,11.0,
11.7,10.9,12.0,11.1,11.5,11.0,11.8,11.2,11.9,10.9,11.6,11.1,11.8,11.0,11.4,11.2,11.9,10.9,11.7,11.1,
11.8,11.0,11.5,11.2,11.9,10.9,11.7,11.1,11.6,11.0,11.8,11.3,11.5,11.0,11.9,11.1,11.6,10.9,11.8,11.2,
11.5,11.0,11.8,11.1,11.7,10.9,11.6,11.2,11.9,11.0,11.5,11.1,11.8,11.0,11.6,11.3,11.7,10.9,11.8,11.1,
11.6,11.0,11.9,11.2,11.5,11.0,11.7,11.1,11.8,10.9,11.6,11.2,11.7,11.0,11.9,11.1,11.5,11.0,11.8,11.2,
11.7,11.0,11.6,11.1,11.9,11.0,11.5,11.2,11.8,10.9,11.6,11.1,11.7,11.0,11.8,11.2,11.6,11.0,11.7,11.1,
11.8,11.0,11.6,11.2,11.7,10.9,11.8,11.1,11.5,11.0,11.8,11.2,11.7,11.0,11.6,11.1,11.9,11.0,11.6,11.2,
11.7,11.0,11.8,11.1,11.6,11.0,11.7,11.2,11.8,10.9,11.6,11.1,11.7,11.0,11.8,11.2,11.6,11.0,11.7,11.1,
11.8,11.0,11.6,11.2,11.7,11.0,11.8,11.1,11.6,11.0,11.7];
const diffPkX3 = [26.07,26.12,29.1,32.1,32.17,32.3,32.37,32.62,32.68,33.03,33.1,33.82,33.87,33.92,34.22,41.42,41.47,47.92,47.97,48.42,56.2,60.3];
const diffPkY3 = [13.0,10.0,13.0,16.0,7.4,15.0,8.0,13.8,9.2,13.5,9.0,13.0,7.1,14.2,12.8,14.0,9.4,13.6,9.8,13.1,12.7,12.8];

// ---------- helpers ----------
function pairs(xs, ys) {
  const n = Math.min(xs.length, ys.length), out = [];
  for (let i = 0; i < n; i++) out.push({x: xs[i], y: ys[i]});
  return out;
}
function mergeLine(gx, gy, px, py, gap) {
  const base = pairs(gx, gy).filter(p => !px.some(q => Math.abs(q - p.x) < gap));
  return base.concat(pairs(px, py)).sort((a, b) => a.x - b.x);
}
const FONT = "'Liberation Serif','Times New Roman',serif";
const boxPlugin = {
  id: 'box',
  afterDraw(chart) {
    const {ctx, chartArea: a} = chart;
    ctx.save(); ctx.lineWidth = 2; ctx.strokeStyle = '#000';
    ctx.strokeRect(a.left, a.top, a.right - a.left, a.bottom - a.top);
    ctx.restore();
  }
};

function buildPanel(id, o) {
  return new Chart(document.getElementById(id), {
    type: 'scatter',
    data: { datasets: [
      {label: 'Calculated', data: o.calc, showLine: true, borderColor: '#ea1a1a', borderWidth: 1.6, pointRadius: 0, clip: 0},
      {label: 'Difference', data: o.diff, showLine: true, borderColor: '#1fe81f', borderWidth: 1.6, pointRadius: 0, clip: 0},
      {label: 'Bra Peak', data: o.bra, showLine: false, pointStyle: 'line', pointRotation: 90, pointRadius: 6,
       pointBorderColor: '#ee00ee', pointBackgroundColor: '#ee00ee', pointBorderWidth: 1.6, clip: 0},
      {label: 'Observed', data: o.obs, showLine: false, pointStyle: 'crossRot', pointRadius: 9,
       pointBorderColor: '#000', pointBackgroundColor: '#000', pointBorderWidth: 2.2, clip: 0}
    ]},
    options: {
      responsive: false, animation: false, events: [],
      layout: {padding: {top: o.padTop, right: 26, bottom: 0, left: 0}},
      plugins: {legend: {display: false}, tooltip: {enabled: false}},
      scales: {
        x: {
          type: 'linear', min: 5, max: 100,
          afterBuildTicks: s => { s.ticks = xTicks.map(v => ({value: v})); },
          afterFit: s => { s.height = o.xh; },
          ticks: {autoSkip: false, maxRotation: 0, padding: 3, color: '#000',
                  font: {family: FONT, size: 30, weight: 'bold'},
                  callback: v => (v % 10 === 0 ? String(v) : '')},
          grid: {display: true, drawOnChartArea: false, drawTicks: true, tickLength: 6, color: '#000', lineWidth: 1.5},
          border: {display: true, color: '#000', width: 2},
          title: {display: true, text: '2 Theta (°)', color: '#000',
                  font: {family: FONT, size: 31, weight: 'bold', lineHeight: 1}, padding: {top: 0, bottom: o.tpb}}
        },
        y: {
          type: 'linear', min: 0, max: o.ymax,
          afterFit: s => { s.width = 55; },
          ticks: {display: false}, grid: {display: false}, border: {display: false},
          title: {display: true, text: 'Intensity (a.u.)', color: '#000',
                  font: {family: FONT, size: 32, weight: 'bold', lineHeight: 1}, padding: {top: 14, bottom: 0}}
        }
      }
    },
    plugins: [boxPlugin]
  });
}

buildPanel('c1', {
  padTop: 12, xh: 87, tpb: 1.5, ymax: 113,
  obs: pairs(gridObs, obs1).concat(pairs(gridObsB, obsB1), pairs(obsPkX1, obsPkY1), pairs(obsSmX1, obsSmY1)),
  calc: mergeLine(gridCalc, calc1, calcPkX1, calcPkY1, 0.16),
  diff: mergeLine(gridDiff, diff1, diffPkX1, diffPkY1, 0.01),
  bra: braPeaks.map(v => ({x: v, y: 4.4}))
});
buildPanel('c2', {
  padTop: 23, xh: 87, tpb: 1.5, ymax: 110,
  obs: pairs(gridObs, obs2).concat(pairs(gridObsB, obsB2), pairs(obsPkX2, obsPkY2), pairs(obsSmX2, obsSmY2)),
  calc: mergeLine(gridCalc, calc2, calcPkX2, calcPkY2, 0.16),
  diff: mergeLine(gridDiff, diff2, diffPkX2, diffPkY2, 0.01),
  bra: braPeaks.map(v => ({x: v, y: 4.7}))
});
buildPanel('c3', {
  padTop: 10, xh: 90, tpb: 7.5, ymax: 114.3,
  obs: pairs(gridObs, obs3).concat(pairs(gridObsB, obsB3), pairs(obsPkX3, obsPkY3), pairs(obsSmX3, obsSmY3)),
  calc: mergeLine(gridCalc, calc3, calcPkX3, calcPkY3, 0.16),
  diff: mergeLine(gridDiff, diff3, diffPkX3, diffPkY3, 0.01),
  bra: braPeaks.map(v => ({x: v, y: 5.65}))
});
</script>
</body></html>
